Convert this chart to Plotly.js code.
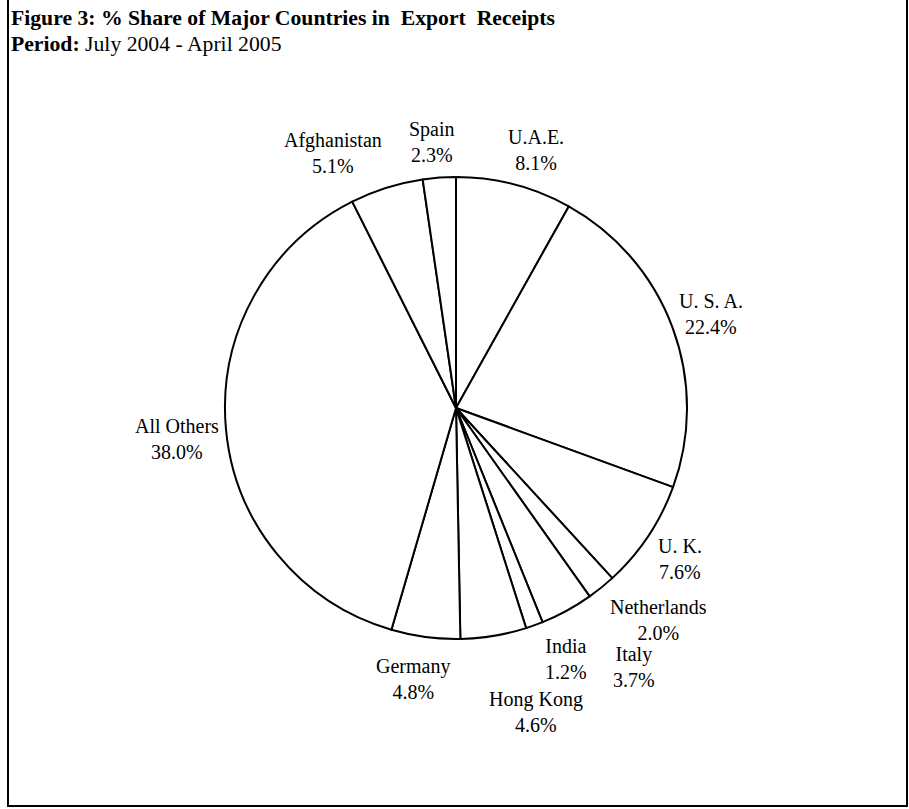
<!DOCTYPE html>
<html>
<head>
<meta charset="utf-8">
<script src="https://cdn.plot.ly/plotly-3.0.1.min.js"></script>
<style>html,body{margin:0;padding:0;background:#fff;}#chart{width:909px;height:809px;}</style>
</head>
<body>
<div id="chart"></div>
<script>
const countries = ["U.A.E.", "U. S. A.", "U. K.", "Netherlands", "Italy", "India", "Hong Kong", "Germany", "All Others", "Afghanistan", "Spain"];
const shares = [8.1, 22.4, 7.6, 2.0, 3.7, 1.2, 4.6, 4.8, 38.0, 5.1, 2.3];
const titleLine1 = "Figure 3: % Share of Major Countries in\u00a0 Export\u00a0 Receipts";
const periodLabel = "Period:";
const periodText = "July 2004 - April 2005";

const W = 909, H = 809;
const cx = 456, cy = 408, r = 231;
const serif = "Liberation Serif, Times New Roman, serif";

// label styling: distance of label centres from pie centre, plus hand nudges (px) like dragged Excel labels
const labelRadius = 270;
const labelNudge = {
  "U.A.E.": [12, 3], "U. S. A.": [2, 0], "U. K.": [-1, 1], "Netherlands": [33, 2],
  "Italy": [48, 22], "India": [18, -3], "Hong Kong": [36, 38], "Germany": [-7, 3],
  "All Others": [-10, 6], "Afghanistan": [-42, 3], "Spain": [-4, 3]
};

const trace = {
  type: "pie",
  labels: countries,
  values: shares,
  sort: false,
  direction: "clockwise",
  rotation: 0,
  hole: 0,
  marker: {colors: countries.map(() => "#ffffff"), line: {color: "#000000", width: 2}},
  textinfo: "none",
  hoverinfo: "skip",
  showlegend: false,
  domain: {x: [(cx - r) / W, (cx + r) / W], y: [(H - cy - r) / H, (H - cy + r) / H]}
};

const total = shares.reduce((a, b) => a + b, 0);
const annotations = [];
let cum = 0;
countries.forEach((name, i) => {
  const mid = (cum + shares[i] / 2) / total * 2 * Math.PI;
  cum += shares[i];
  const nudge = labelNudge[name] || [0, 0];
  const px = cx + labelRadius * Math.sin(mid) + nudge[0];
  const py = cy - labelRadius * Math.cos(mid) + nudge[1];
  annotations.push({
    xref: "paper", yref: "paper", x: px / W, y: 1 - py / H,
    xanchor: "center", yanchor: "middle", align: "center", showarrow: false,
    text: name + "<br>" + shares[i].toFixed(1) + "%",
    font: {family: serif, size: 20, color: "#000"}
  });
});

annotations.push(
  {xref: "paper", yref: "paper", x: 9 / W, y: 1 - 4 / H, xanchor: "left", yanchor: "top", showarrow: false,
   text: "<b>" + titleLine1 + "</b>", font: {size: 21.7, family: serif, color: "#000"}},
  {xref: "paper", yref: "paper", x: 9 / W, y: 1 - 30 / H, xanchor: "left", yanchor: "top", showarrow: false,
   text: "<b>" + periodLabel + "</b> " + periodText, font: {size: 21.7, family: serif, color: "#000"}}
);

const layout = {
  width: W, height: H,
  margin: {l: 0, r: 0, t: 0, b: 0},
  paper_bgcolor: "#fff",
  showlegend: false,
  font: {family: serif, color: "#000"},
  annotations: annotations,
  shapes: [
    {type: "rect", xref: "paper", yref: "paper", x0: 8 / W, x1: 907 / W, y0: 3 / H, y1: 1.05,
     line: {color: "#000", width: 2}, fillcolor: "rgba(0,0,0,0)"}
  ]
};

Plotly.newPlot("chart", [trace], layout, {displayModeBar: false, staticPlot: true});
</script>
</body>
</html>
